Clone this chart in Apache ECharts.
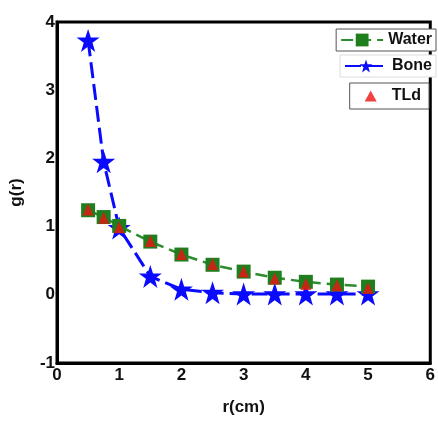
<!DOCTYPE html>
<html><head><meta charset="utf-8">
<script src="https://cdn.jsdelivr.net/npm/echarts@6/dist/echarts.min.js"></script>
<style>html,body{margin:0;padding:0;background:#fff}#c{width:438px;height:421px}</style>
</head><body><div id="c"></div>
<script>
const rValues = [0.5, 0.75, 1, 1.5, 2, 2.5, 3, 3.5, 4, 4.5, 5];
const waterG = [1.24, 1.14, 1.01, 0.78, 0.59, 0.44, 0.34, 0.25, 0.19, 0.15, 0.12];
const boneG = [3.73, 1.95, 0.98, 0.27, 0.08, 0.03, 0.01, 0.01, 0.01, 0.01, 0.01];
const tldG = [1.25, 1.13, 0.99, 0.79, 0.60, 0.45, 0.34, 0.24, 0.16, 0.14, 0.10];
const xTicks = [0, 1, 2, 3, 4, 5, 6];
const yTicks = [-1, 0, 1, 2, 3, 4];

const pair = (xs, ys) => xs.map((x, i) => [x, ys[i]]);
const font = 'Liberation Sans, Arial, sans-serif';
const starPath = 'path://M50,0 L61.8,35.4 L100,35.4 L69.1,57.3 L80.9,95.1 L50,73.2 L19.1,95.1 L30.9,57.3 L0,35.4 L38.2,35.4 Z';
const chart = echarts.init(document.getElementById('c'), null, {renderer: 'canvas'});
const legendBase = {
  orient: 'vertical', itemGap: 0, padding: [3, 4, 3, 4],
  textStyle: {fontFamily: font, fontWeight: 'bold', fontSize: 16, color: '#111'},
  backgroundColor: '#fff', borderColor: '#555', borderWidth: 1, itemWidth: 42, itemHeight: 16
};
chart.setOption({
  animation: false,
  grid: {left: 57, top: 22, right: 3, bottom: 55, show: true, borderColor: '#000', borderWidth: 3, backgroundColor: '#fff'},
  legend: [
    Object.assign({}, legendBase, {data: ['Water'], right: 2, top: 29}),
    Object.assign({}, legendBase, {data: ['Bone'], right: 2, top: 55, borderColor: '#ddd'}),
    Object.assign({}, legendBase, {data: [{name: 'TLd', icon: 'triangle'}], right: 9, top: 83,
      itemWidth: 12, itemHeight: 11, itemGap: 0, padding: [5, 8, 5, 15],
      textStyle: {fontFamily: font, fontWeight: 'bold', fontSize: 16, color: '#111', padding: [0, 0, 0, 10]}})
  ],
  xAxis: {
    type: 'value', min: xTicks[0], max: xTicks[xTicks.length - 1], interval: 1,
    name: 'r(cm)', nameLocation: 'middle', nameGap: 36,
    nameTextStyle: {fontFamily: font, fontWeight: 'bold', fontSize: 17, color: '#111'},
    axisLine: {show: true, onZero: false, lineStyle: {color: '#000', width: 3}},
    axisTick: {show: false}, splitLine: {show: false},
    axisLabel: {fontFamily: font, fontWeight: 'bold', fontSize: 17, color: '#111', margin: 4, showMaxLabel: true}
  },
  yAxis: {
    type: 'value', min: yTicks[0], max: yTicks[yTicks.length - 1], interval: 1,
    name: 'g(r)', nameLocation: 'middle', nameGap: 32, nameRotate: 90,
    nameTextStyle: {fontFamily: font, fontWeight: 'bold', fontSize: 17, color: '#111'},
    axisLine: {show: true, onZero: false, lineStyle: {color: '#000', width: 3}},
    axisTick: {show: false}, splitLine: {show: false},
    axisLabel: {fontFamily: font, fontWeight: 'bold', fontSize: 17, color: '#111', margin: 2}
  },
  series: [
    {
      name: 'Bone', type: 'line', data: pair(rValues, boneG), z: 2,
      symbol: starPath, symbolSize: 23, itemStyle: {color: '#0a0aff'},
      lineStyle: {color: '#0a0aff', width: 3, type: [16, 6]}
    },
    {
      name: 'Water', type: 'line', data: pair(rValues, waterG), z: 3,
      symbol: 'rect', symbolSize: 14, itemStyle: {color: '#1f7f1f'},
      lineStyle: {color: '#2e8b2e', width: 2.5, type: [12, 6]}
    },
    {
      name: 'TLd', type: 'scatter', data: pair(rValues, tldG), z: 4,
      symbol: 'triangle', symbolSize: [11, 12], itemStyle: {color: '#ee1111'}
    }
  ]
});
</script></body></html>
